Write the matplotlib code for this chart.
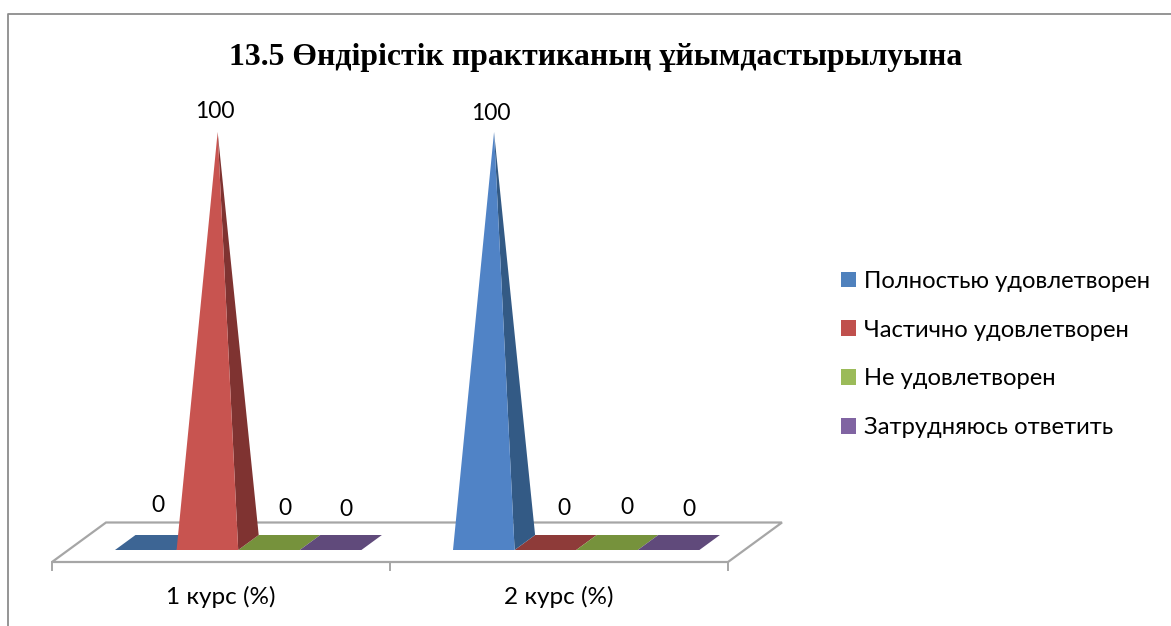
import matplotlib
matplotlib.use("Agg")
import matplotlib.pyplot as plt
from matplotlib.patches import Polygon, Patch
from matplotlib.lines import Line2D

# data
categories = ["1 курс (%)", "2 курс (%)"]
series_names = ["Полностью удовлетворен", "Частично удовлетворен", "Не удовлетворен", "Затрудняюсь ответить"]
full = [0, 100]
partial = [100, 0]
not_sat = [0, 0]
hard = [0, 0]
series = [full, partial, not_sat, hard]

title = "13.5 Өндірістік практиканың ұйымдастырылуына"

# colours: legend / front, side, flat zero bar
front_col = ["#4F81BD", "#C0504D", "#9BBB59", "#8064A2"]
pyr_col = ["#5083C6", "#C85450", "#9BBB59", "#8064A2"]
side_col = ["#335A85", "#7F3331", "#76923C", "#604A7B"]
flat_col = ["#3D6594", "#8E3B39", "#76923C", "#604A7B"]

W, H = 1171, 626
PX_CAT = 338.0   # pixels per category
PX_VAL = 4.105   # pixels per value unit
X0, Y0 = 52.0, 542.5  # pixel of category 0 / value 0 (middle of bar base)
FONT = ["Lato", "Noto Sans"]

fig = plt.figure(figsize=(W / 100, H / 100), dpi=100)
ax = fig.add_axes([0, 0, 1, 1])
ax.set_xlim(-X0 / PX_CAT, (W - X0) / PX_CAT)
ax.set_ylim(-(H - Y0) / PX_VAL, Y0 / PX_VAL)
ax.axis("off")

# depth and layout in data units
dep_x = 20.5 / PX_CAT
dep_y = 15.0 / PX_VAL
bar_w = 61.6 / PX_CAT
first = 63.0 / PX_CAT
front_y = -dep_y / 2
back_y = dep_y / 2

# outer frame of the chart
fig.add_artist(Line2D([8 / W, 8 / W, 1], [0, 1 - 14 / H, 1 - 14 / H], color="#8C8C8C", lw=1.3))

# floor
floor_f = -19.5 / PX_VAL
floor_b = 20.0 / PX_VAL
floor_dx = 54.0 / PX_CAT
n = len(categories)
ax.add_patch(Polygon([(0, floor_f), (n, floor_f), (n + floor_dx, floor_b), (floor_dx, floor_b)],
                     closed=True, fc="white", ec="#A6A6A6", lw=1.6, zorder=1))
for t in range(n + 1):
    ax.plot([t, t], [floor_f, floor_f - 8 / PX_VAL], color="#A6A6A6", lw=1.4, zorder=1)

# nudges of the value labels, in pixels
label_dx = [[2, -3, 6, 5], [-3, 8, 10, 10]]
label_dy = [[37, 20, 34, 33], [18, 34, 35, 33]]

for c in range(n):
    for s in range(len(series)):
        v = series[s][c]
        x = c + first + s * bar_w
        cx = x + (bar_w + dep_x) / 2
        if v == 0:
            ax.add_patch(Polygon([(x, front_y), (x + bar_w, front_y),
                                  (x + bar_w + dep_x, back_y), (x + dep_x, back_y)],
                                 closed=True, fc=flat_col[s], ec="none", zorder=2))
        else:
            ax.add_patch(Polygon([(x + bar_w, front_y), (x + bar_w + dep_x, back_y), (cx, v)],
                                 closed=True, fc=side_col[s], ec="none", zorder=3))
            ax.add_patch(Polygon([(x, front_y), (x + bar_w, front_y), (cx, v)],
                                 closed=True, fc=pyr_col[s], ec="none", zorder=4))
        ax.annotate(str(v), (cx, v), xytext=(label_dx[c][s] * 0.72, label_dy[c][s] * 0.72),
                    textcoords="offset points", ha="center", va="center",
                    family=FONT, fontsize=16.5, color="black", zorder=5)

# category labels
for c, name in enumerate(categories):
    ax.text(c + 0.5, -(597 - Y0) / PX_VAL, name, ha="center", va="center",
            family=FONT, fontsize=17.5, color="black")

ax.text((595.5 - X0) / PX_CAT, (Y0 - 57) / PX_VAL, title, ha="center", va="center",
        family="Liberation Serif", fontweight="bold", fontsize=22.9, color="black")

handles = [Patch(fc=front_col[i], ec="none") for i in range(4)]
ax.legend(handles, series_names, loc="center left", bbox_to_anchor=(841 / W, 1 - 354.5 / H),
          bbox_transform=fig.transFigure, frameon=False,
          prop={"family": FONT, "size": 17.1}, borderaxespad=0, borderpad=0,
          handlelength=0.63, handleheight=0.63, handletextpad=0.32, labelspacing=1.17)

fig.savefig("out.png", dpi=100)
